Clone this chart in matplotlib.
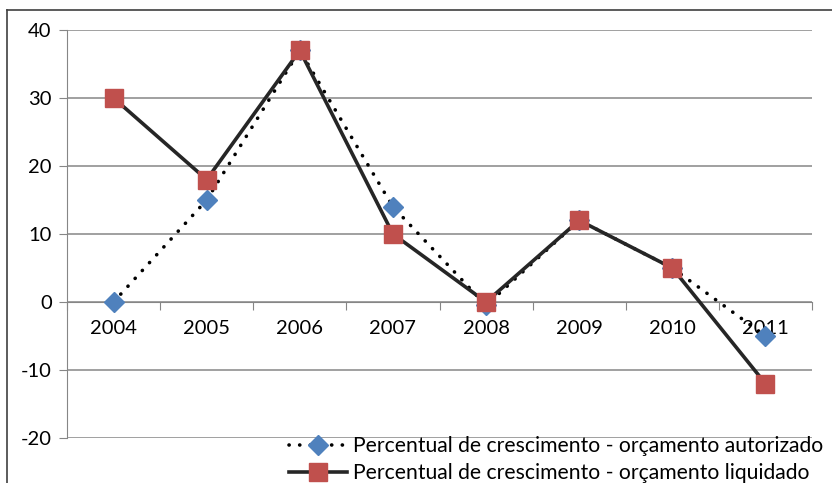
import numpy as np
import matplotlib.pyplot as plt
from matplotlib.lines import Line2D

plt.rcParams['font.family'] = ['Lato', 'DejaVu Sans']

# dados
anos = ['2004', '2005', '2006', '2007', '2008', '2009', '2010', '2011']
autorizado = [0, 15, 37, 14, -0.5, 12, 5, -5]
liquidado = [30, 18, 37, 10, 0, 12, 5, -12]
y_ticks = [-20, -10, 0, 10, 20, 30, 40]

W, H = 832, 483
fig = plt.figure(figsize=(W / 100, H / 100), dpi=100)
ax = fig.add_axes([67 / W, 1 - 438 / H, (812 - 67) / W, (438 - 30) / H])

x = np.arange(len(anos))

# moldura externa do gráfico
fig.add_artist(Line2D([7 / W, 1.0], [1 - 10 / H, 1 - 10 / H], color='#404040', lw=1.2))
fig.add_artist(Line2D([7 / W, 7 / W], [1 - 10 / H, 0.0], color='#404040', lw=1.2))

ax.plot(x, autorizado, color='black', lw=2.6, linestyle=(0, (0.05, 2.9)),
        dash_capstyle='round', marker='D', markersize=10.5, markerfacecolor='#4F81BD',
        markeredgecolor='#4F81BD', label='Percentual de crescimento - orçamento autorizado',
        zorder=3)
ax.plot(x, liquidado, color='#262626', lw=2.6, marker='s', markersize=12.5,
        markerfacecolor='#C0504D', markeredgecolor='#C0504D',
        label='Percentual de crescimento - orçamento liquidado', zorder=4)

ax.set_xlim(-0.5, len(anos) - 0.5)
ax.set_ylim(-20, 40)
ax.set_yticks(y_ticks)
ax.set_yticklabels([str(v) for v in y_ticks])
ax.yaxis.grid(True, color='#868686', lw=1.1)
ax.set_axisbelow(True)

# eixo de categorias na linha do zero
ax.spines['bottom'].set_position(('data', 0))
ax.spines['bottom'].set_color('#868686')
ax.spines['left'].set_color('#868686')
ax.spines['top'].set_visible(False)
ax.spines['right'].set_visible(False)
ax.set_xticks(np.arange(len(anos) + 1) - 0.5)
ax.set_xticklabels([])
ax.set_xticks(x, minor=True)
ax.set_xticklabels(anos, minor=True)
ax.tick_params(axis='x', which='major', length=6, color='#868686', direction='out')
ax.tick_params(axis='x', which='minor', length=0, pad=13, labelsize=14.5)
ax.tick_params(axis='y', length=6, color='#868686', labelsize=14.5, pad=5)
for lab in ax.get_xticklabels(minor=True):
    lab.set_zorder(2)

fig.legend(loc='upper left', bbox_to_anchor=(289 / W, 1 - 436 / H), frameon=False,
           fontsize=15.2, handlelength=2.75, handletextpad=0.3, labelspacing=0.35,
           borderpad=0, borderaxespad=0)

fig.savefig('out.png', dpi=100)
